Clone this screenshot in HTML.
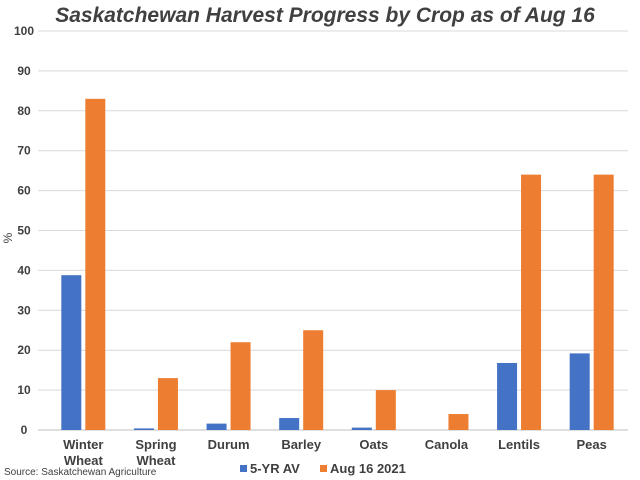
<!DOCTYPE html>
<html><head><meta charset="utf-8"><style>
body{margin:0;background:#fff;}
svg{display:block;font-family:"Liberation Sans",sans-serif;}
</style></head><body>
<svg id="c" width="640" height="480">
<text x="325" y="22" text-anchor="middle" font-size="21" font-weight="bold" font-style="italic" fill="#404040">Saskatchewan Harvest Progress by Crop as of Aug 16</text>
<text x="12" y="238" text-anchor="middle" font-size="12" fill="#404040" transform="rotate(-90 12 238)">%</text>
<text x="4" y="475" font-size="10" fill="#404040">Source: Saskatchewan Agriculture</text>
<g>
<rect x="240" y="465" width="7" height="7" fill="#4472c4"/>
<text x="250" y="473" font-size="13" font-weight="bold" fill="#404040">5-YR AV</text>
<rect x="320" y="465" width="7" height="7" fill="#ed7d31"/>
<text x="330" y="473" font-size="13" font-weight="bold" fill="#404040">Aug 16 2021</text>
</g>
<g id="grid"></g><g id="bars"></g><g id="labels"></g>
</svg>
<script>
const categories=[["Winter","Wheat"],["Spring","Wheat"],["Durum"],["Barley"],["Oats"],["Canola"],["Lentils"],["Peas"]];
const fiveYr=[38.8,0.4,1.6,3,0.6,0,16.8,19.2];
const aug2021=[83,13,22,25,10,4,64,64];
const yTicks=[0,10,20,30,40,50,60,70,80,90,100];
const NS="http://www.w3.org/2000/svg";
const x0=47,x1=628,yTop=31,yBot=430;
const y=v=>yBot-(v/100)*(yBot-yTop);
const gw=(x1-x0)/categories.length;
const grid=document.getElementById('grid'),bars=document.getElementById('bars'),labels=document.getElementById('labels');
function mk(tag,attrs,parent){const e=document.createElementNS(NS,tag);for(const k in attrs)e.setAttribute(k,attrs[k]);parent.appendChild(e);return e;}
yTicks.forEach(t=>{
 const l=mk('line',{x1:38,x2:x1,y1:y(t),y2:y(t),stroke:t===0?'#bfbfbf':'#d9d9d9','stroke-width':1},grid);
 
 
 const tx=mk('text',{x:24,y:y(t)+4,'text-anchor':'middle','font-size':12,'font-weight':'bold',fill:'#404040'},labels);
 tx.textContent=t;
 
 
});
categories.forEach((c,i)=>{
 const cx=x0+gw*(i+0.5);
 const b=mk('rect',{x:cx-22,y:y(fiveYr[i]),width:20,height:yBot-y(fiveYr[i]),fill:'#4472c4'},bars);
 
 
 const o=mk('rect',{x:cx+2,y:y(aug2021[i]),width:20,height:yBot-y(aug2021[i]),fill:'#ed7d31'},bars);
 
 
 c.forEach((w,j)=>{
  const t=mk('text',{x:cx,y:449+j*16,'text-anchor':'middle','font-size':13,'font-weight':'bold',fill:'#404040'},labels);
  t.textContent=w;
  
  
 });
});
</script>
</body></html>
